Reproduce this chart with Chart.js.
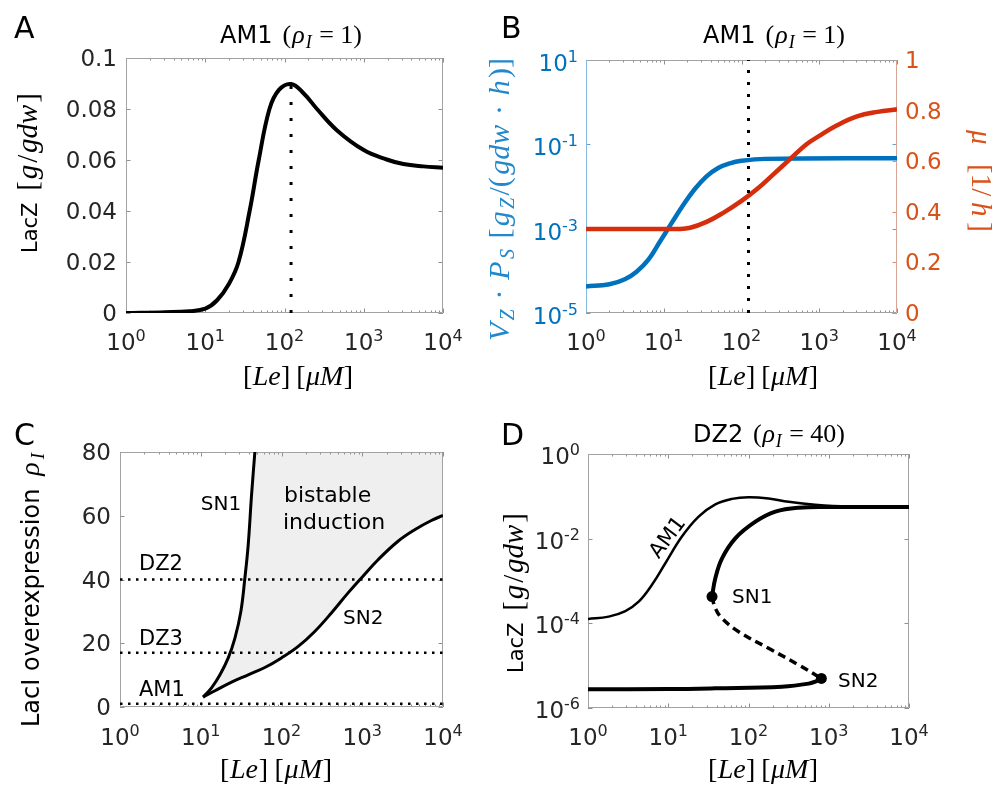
<!DOCTYPE html>
<html><head><meta charset="utf-8">
<script src="https://cdn.jsdelivr.net/npm/chart.js@4.4.1/dist/chart.umd.min.js"></script>
<style>
html,body{margin:0;padding:0;background:#fff;}
#wrap{position:relative;width:998px;height:787px;overflow:hidden;background:#fff;}
canvas{position:absolute;left:0;top:0;}
</style></head><body>
<div id="wrap">
<canvas id="cA" width="998" height="787"></canvas>
<canvas id="cB" width="998" height="787"></canvas>
<canvas id="cC" width="998" height="787"></canvas>
<canvas id="cD" width="998" height="787"></canvas>
</div>
<script>
// ================= DATA =================
// Panel A: AM1 LacZ vs [Le]
const leA    = [1, 3.16, 6.31, 10, 14.1, 19.95, 26.3, 36.3, 47.3, 64.6, 85.1, 121.6, 173.8, 257, 457.1, 1000, 1950, 3162, 5623, 10000];
const laczA  = [0, 0.0003, 0.0007, 0.0017, 0.005, 0.0115, 0.02, 0.04, 0.06, 0.08, 0.0875, 0.0898, 0.0862, 0.08, 0.0717, 0.0639, 0.0602, 0.0584, 0.0575, 0.057];
const peakLeA = 121;
const peakLacZA = 0.0898;

// Panel B: VZ*PS (left, log) and mu (right, linear)
const leBlue = [1, 2.0, 3.16, 4.47, 6.31, 8.91, 12.6, 17.8, 25.1, 35.5, 50.1, 70.8, 100, 200, 10000];
const vzps   = [4.27e-5, 4.79e-5, 6.31e-5, 9.55e-5, 1.82e-4, 4.90e-4, 1.35e-3, 3.63e-3, 8.71e-3, 1.74e-2, 2.75e-2, 3.55e-2, 4.07e-2, 4.52e-2, 4.68e-2];
const leRed  = [1, 10, 14.8, 21.9, 35.5, 58.9, 100, 158.5, 257, 427, 692, 1000, 1698, 3055, 5623, 10000];
const muB    = [0.332, 0.332, 0.332, 0.337, 0.36, 0.397, 0.443, 0.49, 0.548, 0.61, 0.668, 0.70, 0.742, 0.777, 0.795, 0.805];
const markLeB = 123;

// Panel C: bifurcation boundaries
const sn1Le  = [10.7, 13.6, 17.3, 21.9, 26.5, 31.4, 35.2, 38.7, 42.6, 46.8];
const sn1Rho = [3.1, 6.0, 10.1, 15.4, 21.6, 30.0, 40.5, 50.9, 66.6, 80.0];
const sn2Le  = [10.7, 15.0, 24.1, 38.7, 62.2, 100, 161, 258, 415, 668, 977, 1570, 2773, 4460, 7170, 10000];
const sn2Rho = [3.1, 5.1, 7.8, 10.1, 12.4, 15.4, 19.0, 23.7, 29.5, 35.8, 40.5, 46.2, 52.0, 55.6, 58.5, 60.1];
const strainRho   = [40, 17, 1];
const strainNames = ['DZ2', 'DZ3', 'AM1'];

// Panel D: DZ2 (rho_I = 40) branches and AM1
const dAm1Le   = [1, 1.81, 2.92, 4.28, 6.27, 9.2, 14.8, 23.9, 38.6, 62.2, 100, 178, 316, 676, 1778, 10000];
const dAm1LacZ = [1.26e-4, 1.44e-4, 1.95e-4, 3.24e-4, 8.13e-4, 2.63e-3, 1.12e-2, 3.31e-2, 6.46e-2, 8.71e-2, 9.55e-2, 8.91e-2, 7.41e-2, 6.31e-2, 5.70e-2, 5.6e-2];
const dLowLe   = [1, 10, 38.6, 261, 562, 713, 809];
const dLowLacZ = [2.76e-6, 2.8e-6, 2.92e-6, 3.19e-6, 3.76e-6, 4.35e-6, 5.0e-6];
const dUnstLe   = [35.1, 38.6, 46.8, 75.4, 178, 422, 809];
const dUnstLacZ = [4.3e-4, 2.26e-4, 1.31e-4, 6.35e-5, 2.57e-5, 1.04e-5, 5.0e-6];
const dHighLe   = [35.1, 38.6, 46.8, 68.5, 122, 216, 422, 1097, 10000];
const dHighLacZ = [4.3e-4, 1.16e-3, 3.43e-3, 0.0102, 0.0252, 0.0435, 0.054, 0.056, 0.056];
const snPointLe   = [35.1, 809];
const snPointLacZ = [4.3e-4, 5.0e-6];
const snPointNames = ['SN1', 'SN2'];

// Tick labels
const decadeTicks = [1, 10, 100, 1000, 10000];
const decadeExp   = ['0', '1', '2', '3', '4'];
const aYTicks  = [0, 0.02, 0.04, 0.06, 0.08, 0.1];
const aYLabels = ['0', '0.02', '0.04', '0.06', '0.08', '0.1'];
const bLTicks  = [1e-5, 1e-3, 1e-1, 1e1];
const bLExp    = ['-5', '-3', '-1', '1'];
const bRTicks  = [0, 0.2, 0.4, 0.6, 0.8, 1];
const bRLabels = ['0', '0.2', '0.4', '0.6', '0.8', '1'];
const cYTicks  = [0, 20, 40, 60, 80];
const cYLabels = ['0', '20', '40', '60', '80'];
const dYTicks  = [1e-6, 1e-4, 1e-2, 1];
const dYExp    = ['-6', '-4', '-2', '0'];

// ================= helpers =================
const W = 998, H = 787;
const SANS = '"DejaVu Sans", sans-serif';
const SERIF = '"Liberation Serif", "DejaVu Serif", serif';
const S  = (t, px, o = {}) => Object.assign({t, font: px + 'px ' + SANS}, o);
const R  = (t, px, o = {}) => Object.assign({t, font: px + 'px ' + SERIF}, o);
const It = (t, px, o = {}) => Object.assign({t, font: 'italic ' + px + 'px ' + SERIF}, o);
const G  = (px) => ({gap: px});
const pts = (xs, ys) => xs.map((x, i) => ({x, y: ys[i]}));
const TICKC = '#262626';
const BLUE = '#0072BD', ORANGE = '#D95319', RED = '#D62D0C';
const SMOOTH = {tension: 0.4, cubicInterpolationMode: 'default'};

function drawRich(ctx, segs, x, y, o = {}) {
  const align = o.align || 'left';
  ctx.save();
  ctx.translate(x, y);
  if (o.rot) ctx.rotate(o.rot);
  ctx.textBaseline = 'alphabetic';
  ctx.textAlign = 'left';
  const ws = segs.map(s => { if (s.gap != null) return s.gap; ctx.font = s.font; return ctx.measureText(s.t).width; });
  const total = ws.reduce((a, b) => a + b, 0);
  let extra = 0;
  if (o.width && segs.length > 1) extra = (o.width - total) / (segs.length - 1);
  const Wt = o.width || total;
  let cx = align === 'center' ? -Wt / 2 : align === 'right' ? -Wt : 0;
  segs.forEach((s, i) => {
    if (s.t != null) { ctx.font = s.font; ctx.fillStyle = s.color || o.color || '#000'; ctx.fillText(s.t, cx, (s.dy || 0) + (o.dy || 0)); }
    cx += ws[i] + extra;
  });
  ctx.restore();
}
const pow10 = (e) => [S('10', 23), S(e, 16, {dy: -9})];

function line(ctx, x1, y1, x2, y2, color, lw = 1) {
  ctx.strokeStyle = color; ctx.lineWidth = lw;
  ctx.beginPath(); ctx.moveTo(x1, y1); ctx.lineTo(x2, y2); ctx.stroke();
}
const minorDecades = [];
for (let k = 0; k < 4; k++) for (let m = 2; m <= 9; m++) minorDecades.push(m * Math.pow(10, k));

// shaded region between two boundary curves (datasets i1, i2), traced from the library's line elements
function fillBetween(chart, i1, i2, color) {
  const ctx = chart.ctx, a = chart.chartArea;
  const l1 = chart.getDatasetMeta(i1).dataset, l2 = chart.getDatasetMeta(i2).dataset;
  [l1, l2].forEach(l => { if (l.updateControlPoints) l.updateControlPoints(a, 'x'); });
  const trace = (l) => {
    if (typeof l.path === 'function') { l.path(ctx); }
    else { const p = l.points; ctx.moveTo(p[0].x, p[0].y); p.slice(1).forEach(q => ctx.lineTo(q.x, q.y)); }
  };
  const p1 = l1.points, p2 = l2.points;
  ctx.save();
  ctx.beginPath(); ctx.rect(a.left, a.top, a.right - a.left, a.bottom - a.top); ctx.clip();
  ctx.beginPath(); trace(l1);
  ctx.lineTo(a.right + 2, a.top - 2); ctx.lineTo(a.right + 2, a.bottom); ctx.lineTo(p1[0].x, a.bottom); ctx.closePath();
  ctx.clip();
  ctx.beginPath(); trace(l2);
  ctx.lineTo(a.right + 2, p2[p2.length - 1].y); ctx.lineTo(a.right + 2, a.top - 2); ctx.lineTo(a.left, a.top - 2); ctx.lineTo(a.left, p2[0].y); ctx.closePath();
  ctx.fillStyle = color; ctx.fill();
  ctx.restore();
}

function drawFrame(chart, f) {
  const ctx = chart.ctx, a = chart.chartArea, xs = chart.scales.x;
  ctx.save();
  const gray = '#8f8f8f';
  decadeTicks.forEach(v => {
    const p = Math.round(xs.getPixelForValue(v)) + 0.5;
    line(ctx, p, a.bottom, p, a.bottom - 4.5, gray); line(ctx, p, a.top, p, a.top + 4.5, gray);
  });
  minorDecades.forEach(v => {
    const p = Math.round(xs.getPixelForValue(v)) + 0.5;
    line(ctx, p, a.bottom, p, a.bottom - 2.5, gray); line(ctx, p, a.top, p, a.top + 2.5, gray);
  });
  (f.yt || []).forEach(t => {
    const sc = chart.scales[t.axis];
    t.values.forEach(v => {
      const p = Math.round(sc.getPixelForValue(v)) + 0.5;
      if (t.left)  line(ctx, a.left, p, a.left + 4.5, p, t.color || gray);
      if (t.right) line(ctx, a.right, p, a.right - 4.5, p, t.color || gray);
    });
  });
  const L = Math.round(a.left) + 0.5, Rr = Math.round(a.right) - 0.5, T = Math.round(a.top) + 0.5, B = Math.round(a.bottom) - 0.5;
  const bc = '#a2a2a2';
  line(ctx, L, T, Rr, T, bc); line(ctx, L, B, Rr, B, bc);
  line(ctx, L, T, L, B, f.leftColor || bc); line(ctx, Rr, T, Rr, B, f.rightColor || bc);
  ctx.restore();
}

function makeChart(id, area, scales, datasets, deco) {
  return new Chart(document.getElementById(id), {
    type: 'scatter',
    data: {datasets},
    options: {
      responsive: false, animation: false, devicePixelRatio: 1, events: [],
      layout: {padding: {left: area.l, top: area.t, right: W - area.r, bottom: H - area.b}},
      plugins: {legend: {display: false}, tooltip: {enabled: false}, title: {display: false}},
      scales,
      elements: {point: {radius: 0, hoverRadius: 0}, line: {tension: 0.4, borderCapStyle: 'butt'}}
    },
    plugins: [{
      id: 'deco',
      beforeDatasetsDraw(chart) { if (deco.shade) deco.shade(chart); drawFrame(chart, deco.frame); },
      afterDraw(chart) { deco.texts(chart, chart.ctx); }
    }]
  });
}
const logX = {type: 'logarithmic', min: 1, max: 10000, display: false};
const xTitle = () => [R('[', 28), It('Le', 28), R(']', 28), G(5), R('[', 28), It('μM', 28), R(']', 28)];
const yLacZ = () => [S('LacZ', 21), G(8), R('[', 29), It('g', 29), R('/', 29), It('gdw', 29), R(']', 29)];
const mathTitle = (name, val) => [S(name, 24), G(8), R('(', 26), It('ρ', 26), It('I', 18, {dy: 5}), R(' = ' + val + ')', 26)];
function xDecadeLabels(chart, ctx, base) {
  decadeTicks.forEach((v, i) => drawRich(ctx, pow10(decadeExp[i]), chart.scales.x.getPixelForValue(v), base, {align: 'center', color: TICKC}));
}

// ================= Panel A =================
makeChart('cA', {l: 126, r: 443, t: 58, b: 313},
  {x: logX, y: {type: 'linear', min: 0, max: 0.1, display: false}},
  [
    Object.assign({data: pts(leA, laczA), showLine: true, borderColor: '#000', borderWidth: 4}, SMOOTH),
    {data: [{x: peakLeA, y: 0}, {x: peakLeA, y: peakLacZA}], showLine: true, borderColor: '#000', borderWidth: 3, borderDash: [3, 13], tension: 0}
  ],
  {
    frame: {yt: [{axis: 'y', values: aYTicks, left: true, right: true}]},
    texts(chart, ctx) {
      drawRich(ctx, [S('A', 30)], 14, 38);
      drawRich(ctx, mathTitle('AM1', '1'), 220, 43, {width: 142});
      xDecadeLabels(chart, ctx, 350);
      aYTicks.forEach((v, i) => drawRich(ctx, [S(aYLabels[i], 23)], 117, chart.scales.y.getPixelForValue(v) + 8, {align: 'right', color: TICKC}));
      drawRich(ctx, xTitle(), 243, 385, {width: 110});
      drawRich(ctx, yLacZ(), 37, 253, {rot: -Math.PI / 2, width: 160});
    }
  });

// ================= Panel B =================
makeChart('cB', {l: 586, r: 897, t: 60, b: 313},
  {x: logX, y: {type: 'logarithmic', min: 1e-5, max: 10, display: false}, y1: {type: 'linear', min: 0, max: 1, display: false, position: 'right'}},
  [
    {data: [{x: markLeB, y: 1e-5}, {x: markLeB, y: 10}], yAxisID: 'y', showLine: true, borderColor: '#000', borderWidth: 3, borderDash: [3, 9], tension: 0},
    Object.assign({data: pts(leRed, muB), yAxisID: 'y1', showLine: true, borderColor: RED, borderWidth: 4.5}, SMOOTH),
    Object.assign({data: pts(leBlue, vzps), yAxisID: 'y', showLine: true, borderColor: BLUE, borderWidth: 4.5}, SMOOTH)
  ],
  {
    frame: {leftColor: '#86bbe0', rightColor: '#d7a595', yt: [
      {axis: 'y', values: bLTicks, left: true, right: true, color: '#5fa3d4'},
      {axis: 'y1', values: bRTicks, right: true, color: '#e08a66'}]},
    texts(chart, ctx) {
      drawRich(ctx, [S('B', 30)], 501, 38);
      drawRich(ctx, mathTitle('AM1', '1'), 703, 43, {width: 142});
      xDecadeLabels(chart, ctx, 350);
      bLTicks.forEach((v, i) => drawRich(ctx, pow10(bLExp[i]), 578, chart.scales.y.getPixelForValue(v) + 11, {align: 'right', color: BLUE}));
      bRTicks.forEach((v, i) => drawRich(ctx, [S(bRLabels[i], 23)], 905, chart.scales.y1.getPixelForValue(v) + 8, {color: ORANGE}));
      drawRich(ctx, xTitle(), 708, 385, {width: 110});
      drawRich(ctx, [It('V', 30), It('Z', 20, {dy: 5}), R(' · ', 30), It('P', 30), It('S', 20, {dy: 5}), G(6), R('[', 30), It('g', 30), It('Z', 20, {dy: 5}), R('/(', 30), It('gdw', 30), R(' · ', 30), It('h', 30), R(')]', 30)],
        509, 341, {rot: -Math.PI / 2, width: 283, color: '#2288cc'});
      drawRich(ctx, [It('μ', 29), G(8), R('[1/', 29), It('h', 29), R(']', 29)], 972, 130, {rot: Math.PI / 2, width: 102, color: ORANGE});
    }
  });

// ================= Panel C =================
makeChart('cC', {l: 120, r: 443, t: 452, b: 707},
  {x: logX, y: {type: 'linear', min: 0, max: 80, display: false}},
  [
    Object.assign({data: pts(sn1Le, sn1Rho), showLine: true, borderColor: '#000', borderWidth: 3}, SMOOTH),
    Object.assign({data: pts(sn2Le, sn2Rho), showLine: true, borderColor: '#000', borderWidth: 3}, SMOOTH),
    ...strainRho.map(r => ({data: [{x: 1, y: r}, {x: 10000, y: r}], showLine: true, borderColor: '#000', borderWidth: 2.5, borderDash: [2.5, 5.5], tension: 0}))
  ],
  {
    shade(chart) { fillBetween(chart, 0, 1, '#efefef'); },
    frame: {yt: [{axis: 'y', values: cYTicks, left: true, right: true}]},
    texts(chart, ctx) {
      drawRich(ctx, [S('C', 30)], 14, 445);
      xDecadeLabels(chart, ctx, 745);
      cYTicks.forEach((v, i) => drawRich(ctx, [S(cYLabels[i], 23)], 111, chart.scales.y.getPixelForValue(v) + 8, {align: 'right', color: TICKC}));
      drawRich(ctx, xTitle(), 220, 778, {width: 112});
      drawRich(ctx, [S('LacI overexpression', 24), G(7), It('ρ', 28), It('I', 19, {dy: 5})], 39, 727, {rot: -Math.PI / 2, width: 274});
      const yb = [570, 645, 696];
      strainNames.forEach((n, i) => drawRich(ctx, [S(n, 21)], 139, yb[i]));
      drawRich(ctx, [S('SN1', 20)], 221, 510, {align: 'center'});
      drawRich(ctx, [S('SN2', 20)], 343, 624);
      drawRich(ctx, [S('bistable', 22)], 284, 502);
      drawRich(ctx, [S('induction', 22)], 283, 529);
    }
  });

// ================= Panel D =================
makeChart('cD', {l: 588, r: 909, t: 454, b: 708},
  {x: logX, y: {type: 'logarithmic', min: 1e-6, max: 1, display: false}},
  [
    {data: pts(snPointLe, snPointLacZ), showLine: false, pointRadius: 5.5, pointBackgroundColor: '#000', pointBorderWidth: 0},
    Object.assign({data: pts(dHighLe, dHighLacZ), showLine: true, borderColor: '#000', borderWidth: 4}, SMOOTH),
    Object.assign({data: pts(dUnstLe, dUnstLacZ), showLine: true, borderColor: '#000', borderWidth: 3.5, borderDash: [8, 5]}, SMOOTH),
    Object.assign({data: pts(dLowLe, dLowLacZ), showLine: true, borderColor: '#000', borderWidth: 4}, SMOOTH),
    Object.assign({data: pts(dAm1Le, dAm1LacZ), showLine: true, borderColor: '#000', borderWidth: 2.5}, SMOOTH)
  ],
  {
    frame: {yt: [{axis: 'y', values: dYTicks, left: true, right: true}]},
    texts(chart, ctx) {
      drawRich(ctx, [S('D', 30)], 501, 445);
      drawRich(ctx, mathTitle('DZ2', '40'), 693, 442, {width: 152});
      xDecadeLabels(chart, ctx, 745);
      dYTicks.forEach((v, i) => drawRich(ctx, pow10(dYExp[i]), 580, chart.scales.y.getPixelForValue(v) + 10, {align: 'right', color: TICKC}));
      drawRich(ctx, xTitle(), 708, 778, {width: 110});
      drawRich(ctx, yLacZ(), 523, 673, {rot: -Math.PI / 2, width: 160});
      drawRich(ctx, [S('AM1', 21)], 667, 537, {align: 'center', rot: -53 * Math.PI / 180, dy: 7});
      drawRich(ctx, [S(snPointNames[0], 20)], 732, 603);
      drawRich(ctx, [S(snPointNames[1], 20)], 838, 687);
    }
  });
</script>
</body></html>
